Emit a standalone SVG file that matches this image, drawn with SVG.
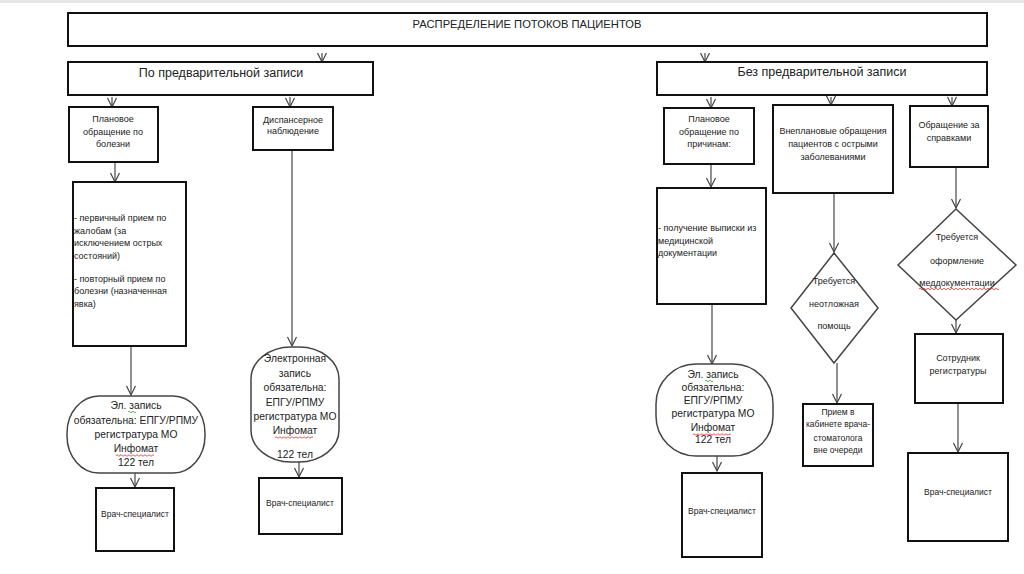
<svg xmlns="http://www.w3.org/2000/svg" width="1024" height="574" viewBox="0 0 1024 574">
<defs>
<marker id="ah" markerWidth="12" markerHeight="12" refX="10" refY="6" orient="auto" markerUnits="userSpaceOnUse">
<path d="M1,1.5 L10,6 L1,10.5" fill="none" stroke="#444" stroke-width="1.2"/>
</marker>
<style>
.box{fill:#fff;stroke:#111;stroke-width:2}
.term{fill:#fff;stroke:#444;stroke-width:1.5}
.dia{fill:#fff;stroke:#444;stroke-width:1.5}
.con{fill:none;stroke:#555;stroke-width:1.3}
.arr{fill:none;stroke:#555;stroke-width:1.3;marker-end:url(#ah)}
text{font-family:"Liberation Sans",Arial,sans-serif;fill:#222}
.t12{font-size:11.2px}
.t13{font-size:12.5px}
.t9{font-size:9px}
.t10{font-size:10.3px}
.t85{font-size:8.5px}
.c{text-anchor:middle}
.wr{fill:none;stroke:#e03030;stroke-width:0.8}
.wg{fill:none;stroke:#30a030;stroke-width:0.8}
</style>
</defs>
<rect x="0" y="0" width="1024" height="3" fill="#e6e6e6"/>

<g id="connectors">
<line class="arr" x1="322" y1="53" x2="322" y2="62"/>
<line class="arr" x1="705" y1="53" x2="705" y2="62"/>
<line class="arr" x1="112" y1="97" x2="112" y2="107"/>
<line class="arr" x1="290" y1="97" x2="290" y2="107"/>
<line class="arr" x1="115" y1="162" x2="115" y2="182"/>
<line class="arr" x1="131" y1="346" x2="131" y2="395"/>
<line class="arr" x1="135" y1="473" x2="135" y2="487"/>
<line class="arr" x1="292" y1="150" x2="292" y2="346"/>
<line class="arr" x1="299" y1="462" x2="299" y2="477"/>
<line class="arr" x1="711" y1="97" x2="711" y2="108"/>
<line class="arr" x1="831" y1="97" x2="831" y2="105"/>
<line class="arr" x1="952" y1="97" x2="952" y2="106"/>
<line class="arr" x1="711" y1="164" x2="711" y2="187"/>
<line class="arr" x1="712" y1="304" x2="712" y2="364"/>
<line class="arr" x1="717" y1="456" x2="717" y2="471"/>
<line class="arr" x1="834" y1="193" x2="834" y2="252"/>
<line class="arr" x1="837" y1="363" x2="837" y2="403"/>
<line class="arr" x1="956" y1="167" x2="956" y2="208"/>
<line class="arr" x1="956" y1="320" x2="956" y2="333"/>
<line class="arr" x1="958" y1="403" x2="958" y2="452"/>
</g>

<g id="title">
<rect class="box" x="68" y="13" width="919" height="33"/>
<text class="t12 c" x="527" y="28">РАСПРЕДЕЛЕНИЕ ПОТОКОВ ПАЦИЕНТОВ</text>
</g>

<g id="prelim">
<rect class="box" x="68" y="62" width="305" height="33"/>
<text class="t13 c" x="221" y="77">По предварительной  записи</text>
</g>

<g id="noprelim">
<rect class="box" x="657" y="62" width="330" height="33"/>
<text class="t13 c" x="822" y="76">Без предварительной  записи</text>
</g>

<g id="planned-illness">
<rect class="box" x="69" y="107" width="89" height="55"/>
<text class="t9 c" x="113" y="122">Плановое</text>
<text class="t9 c" x="113" y="135">обращение по</text>
<text class="t9 c" x="113" y="147">болезни</text>
</g>

<g id="dispensary">
<rect class="box" x="253" y="107" width="80" height="43"/>
<text class="t9 c" x="293" y="123">Диспансерное</text>
<text class="t9 c" x="293" y="134">наблюдение</text>
</g>

<g id="primary-list">
<rect class="box" x="73" y="182" width="113" height="164"/>
<text class="t9" x="74" y="220.5">- первичный прием по</text>
<text class="t9" x="74" y="234">жалобам (за</text>
<text class="t9" x="74" y="246">исключением острых</text>
<text class="t9" x="74" y="258.5">состояний)</text>
<text class="t9" x="74" y="281.5">- повторный  прием по</text>
<text class="t9" x="74" y="294">болезни (назначенная</text>
<text class="t9" x="74" y="306.5">явка)</text>
</g>

<g id="el-record-1">
<rect class="term" x="67" y="396" width="138" height="77" rx="32" ry="37"/>
<text class="t10 c" x="136" y="409">Эл. запись</text>
<text class="t10 c" x="136" y="424">обязательна: ЕПГУ/РПМУ</text>
<text class="t10 c" x="136" y="438">регистратура МО</text>
<text class="t10 c" x="136" y="452">Инфомат</text>
<text class="t10 c" x="136" y="466">122 тел</text>
<path class="wg" d="M128,412 q1,-1.5 2,0 t2,0 t2,0 t2,0"/>
<path class="wr" d="M116,455.5 q1,-1.5 2,0 t2,0 t2,0 t2,0 t2,0 t2,0 t2,0 t2,0 t2,0 t2,0 t2,0 t2,0 t2,0 t2,0 t2,0 t2,0 t2,0 t2,0 t2,0"/>
</g>

<g id="doctor-1">
<rect class="box" x="96" y="488" width="78" height="63"/>
<text class="t85 c" x="135" y="517">Врач-специалист</text>
</g>

<g id="el-record-2">
<rect class="term" x="251" y="347" width="88" height="115" rx="40" ry="32"/>
<text class="t10 c" x="295" y="362">Электронная</text>
<text class="t10 c" x="295" y="377">запись</text>
<text class="t10 c" x="295" y="391">обязательна:</text>
<text class="t10 c" x="295" y="406">ЕПГУ/РПМУ</text>
<text class="t10 c" x="295" y="420">регистратура МО</text>
<text class="t10 c" x="295" y="434">Инфомат</text>
<text class="t10 c" x="295" y="458">122 тел</text>
<path class="wr" d="M275,437.5 q1,-1.5 2,0 t2,0 t2,0 t2,0 t2,0 t2,0 t2,0 t2,0 t2,0 t2,0 t2,0 t2,0 t2,0 t2,0 t2,0 t2,0 t2,0 t2,0 t2,0"/>
</g>

<g id="doctor-2">
<rect class="box" x="259" y="478" width="83" height="56"/>
<text class="t85 c" x="300" y="506">Врач-специалист</text>
</g>

<g id="planned-reasons">
<rect class="box" x="664" y="108" width="90" height="56"/>
<text class="t9 c" x="709" y="122">Плановое</text>
<text class="t9 c" x="709" y="135">обращение по</text>
<text class="t9 c" x="709" y="147">причинам:</text>
</g>

<g id="unplanned">
<rect class="box" x="773" y="105" width="120" height="88"/>
<text class="t9 c" x="833" y="134">Внеплановые обращения</text>
<text class="t9 c" x="833" y="147">пациентов с острыми</text>
<text class="t9 c" x="833" y="160">заболеваниями</text>
</g>

<g id="certificates">
<rect class="box" x="910" y="106" width="78" height="61"/>
<text class="t9 c" x="949" y="128">Обращение за</text>
<text class="t9 c" x="949" y="141">справками</text>
</g>

<g id="extract">
<rect class="box" x="657" y="188" width="109" height="116"/>
<text class="t9" x="658" y="231">- получение выписки из</text>
<text class="t9" x="658" y="244">медицинской</text>
<text class="t9" x="658" y="256">документации</text>
</g>

<g id="el-record-3">
<rect class="term" x="656" y="364" width="117" height="92" rx="40" ry="40"/>
<text class="t10 c" x="713" y="378">Эл. запись</text>
<text class="t10 c" x="713" y="391">обязательна:</text>
<text class="t10 c" x="713" y="404">ЕПГУ/РПМУ</text>
<text class="t10 c" x="713" y="417">регистратура МО</text>
<text class="t10 c" x="713" y="431">Инфомат</text>
<text class="t10 c" x="713" y="443">122 тел</text>
<path class="wg" d="M705,381 q1,-1.5 2,0 t2,0 t2,0 t2,0"/>
<path class="wr" d="M693,434.5 q1,-1.5 2,0 t2,0 t2,0 t2,0 t2,0 t2,0 t2,0 t2,0 t2,0 t2,0 t2,0 t2,0 t2,0 t2,0 t2,0 t2,0 t2,0 t2,0 t2,0"/>
</g>

<g id="doctor-3">
<rect class="box" x="682" y="473" width="80" height="84"/>
<text class="t85 c" x="722" y="514">Врач-специалист</text>
</g>

<g id="urgent">
<polygon class="dia" points="834,253 878,308 834,363 791,308"/>
<text class="t9 c" x="834" y="284">Требуется</text>
<text class="t9 c" x="834" y="307">неотложная</text>
<text class="t9 c" x="834" y="329">помощь</text>
</g>

<g id="dentist">
<rect class="box" x="803" y="404" width="70" height="62"/>
<text class="t85 c" x="838" y="415">Прием в</text>
<text class="t85 c" x="838" y="427">кабинете врача-</text>
<text class="t85 c" x="838" y="441">стоматолога</text>
<text class="t85 c" x="838" y="453">вне очереди</text>
</g>

<g id="docs-needed">
<polygon class="dia" points="956,209 1016,265 956,320 898,265"/>
<text class="t9 c" x="957" y="240">Требуется</text>
<text class="t9 c" x="957" y="264">оформление</text>
<text class="t9 c" x="957" y="286">меддокументации</text>
<path class="wr" d="M919,289 q1,-1.5 2,0 t2,0 t2,0 t2,0 t2,0 t2,0 t2,0 t2,0 t2,0 t2,0 t2,0 t2,0 t2,0 t2,0 t2,0 t2,0 t2,0 t2,0 t2,0 t2,0 t2,0 t2,0 t2,0 t2,0 t2,0 t2,0 t2,0 t2,0 t2,0 t2,0 t2,0 t2,0 t2,0 t2,0 t2,0 t2,0 t2,0 t2,0 t2,0 t2,0"/>
</g>

<g id="registry-staff">
<rect class="box" x="915" y="334" width="88" height="69"/>
<text class="t9 c" x="958" y="361">Сотрудник</text>
<text class="t9 c" x="958" y="374">регистратуры</text>
</g>

<g id="doctor-4">
<rect class="box" x="908" y="453" width="100" height="88"/>
<text class="t85 c" x="958" y="495">Врач-специалист</text>
</g>
</svg>
